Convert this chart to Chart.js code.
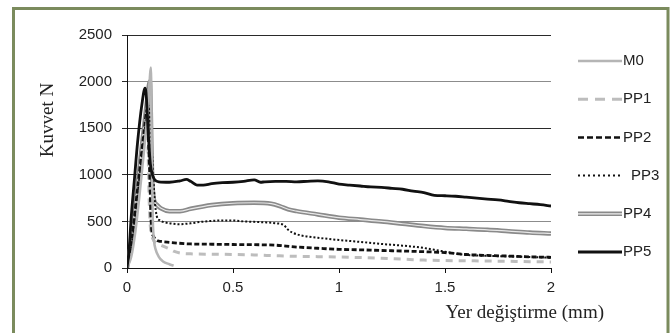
<!DOCTYPE html>
<html>
<head>
<meta charset="utf-8">
<script src="https://cdn.jsdelivr.net/npm/chart.js@4.4.1/dist/chart.umd.min.js"></script>
<style>
  body { margin: 0; background: #fff; }
  canvas { display: block; }
</style>
</head>
<body>
<canvas id="forceChart" width="672" height="333"></canvas>
<script>
// displacement (mm) / force (N)
const m0X = [0, 0.02, 0.04, 0.06, 0.08, 0.1, 0.113, 0.116, 0.119, 0.122, 0.127, 0.135, 0.15, 0.17, 0.2, 0.22];
const m0Y = [0, 120, 400, 800, 1250, 1750, 2150, 1500, 850, 500, 300, 200, 120, 70, 40, 25];

const pp1X = [0, 0.02, 0.04, 0.06, 0.08, 0.095, 0.1, 0.105, 0.11, 0.12, 0.14, 0.17, 0.2, 0.22, 0.25, 0.3, 0.4, 0.5, 0.6, 0.7, 0.8, 0.9, 1.0, 1.1, 1.2, 1.3, 1.4, 1.5, 1.6, 1.7, 1.8, 1.9, 2.0];
const pp1Y = [0, 200, 550, 950, 1350, 1550, 1200, 700, 450, 320, 270, 235, 205, 180, 160, 152, 148, 145, 140, 132, 125, 122, 118, 112, 105, 95, 85, 80, 78, 75, 72, 68, 65];

const pp2X = [0, 0.02, 0.04, 0.06, 0.08, 0.095, 0.1, 0.105, 0.108, 0.112, 0.116, 0.125, 0.14, 0.16, 0.2, 0.3, 0.4, 0.5, 0.6, 0.7, 0.75, 0.8, 0.9, 1.0, 1.1, 1.2, 1.3, 1.4, 1.5, 1.6, 1.7, 1.8, 1.9, 2.0];
const pp2Y = [0, 250, 650, 1050, 1450, 1700, 1450, 1150, 950, 600, 420, 340, 300, 285, 275, 258, 255, 252, 250, 245, 235, 225, 212, 200, 195, 188, 182, 175, 165, 145, 135, 128, 120, 115];

const pp3X = [0, 0.02, 0.04, 0.06, 0.08, 0.1, 0.11, 0.12, 0.13, 0.14, 0.155, 0.17, 0.2, 0.25, 0.3, 0.35, 0.4, 0.45, 0.5, 0.55, 0.6, 0.65, 0.7, 0.74, 0.76, 0.78, 0.82, 0.9, 1.0, 1.1, 1.2, 1.3, 1.4, 1.45, 1.5, 1.55, 1.6, 1.7, 1.8, 1.9, 2.0];
const pp3Y = [0, 230, 600, 1000, 1400, 1750, 1550, 1150, 750, 560, 510, 495, 480, 470, 480, 495, 505, 510, 510, 500, 495, 490, 480, 460, 410, 380, 350, 325, 300, 280, 258, 240, 215, 195, 175, 155, 140, 130, 125, 118, 110];

const pp4X = [0, 0.02, 0.04, 0.06, 0.08, 0.095, 0.108, 0.112, 0.116, 0.12, 0.125, 0.13, 0.14, 0.16, 0.2, 0.25, 0.3, 0.4, 0.5, 0.6, 0.68, 0.72, 0.76, 0.8, 0.9, 1.0, 1.1, 1.2, 1.3, 1.4, 1.5, 1.6, 1.7, 1.8, 1.9, 2.0];
const pp4Y = [0, 280, 680, 1100, 1500, 1800, 2000, 1700, 1200, 900, 760, 710, 680, 640, 610, 610, 635, 675, 695, 700, 690, 665, 630, 610, 575, 540, 520, 500, 475, 450, 430, 420, 410, 395, 380, 370];

const pp5X = [0, 0.01, 0.02, 0.035, 0.05, 0.07, 0.085, 0.09, 0.1, 0.11, 0.12, 0.13, 0.15, 0.2, 0.25, 0.28, 0.3, 0.33, 0.36, 0.4, 0.45, 0.5, 0.55, 0.6, 0.63, 0.65, 0.7, 0.75, 0.8, 0.85, 0.9, 0.95, 1.0, 1.05, 1.1, 1.15, 1.2, 1.25, 1.3, 1.35, 1.4, 1.45, 1.5, 1.55, 1.6, 1.65, 1.7, 1.75, 1.8, 1.85, 1.9, 1.95, 2.0];
const pp5Y = [0, 200, 550, 950, 1350, 1750, 1930, 1880, 1450, 1120, 1000, 950, 925, 920, 935, 950, 930, 890, 890, 905, 915, 920, 930, 945, 920, 925, 930, 930, 925, 930, 935, 925, 900, 890, 880, 870, 865, 855, 845, 825, 810, 780, 775, 770, 760, 750, 740, 730, 715, 700, 690, 680, 665];

const xTicks = [0, 0.5, 1, 1.5, 2];
const yTicks = [0, 500, 1000, 1500, 2000, 2500];
const seriesNames = ["M0", "PP1", "PP2", "PP3", "PP4", "PP5"];

function pts(xs, ys) {
  return xs.map((x, i) => ({ x: x, y: ys[i] }));
}

function line(label, xs, ys, color, width, dash) {
  return {
    label: label,
    data: pts(xs, ys),
    borderColor: color,
    borderWidth: width,
    borderDash: dash || [],
    pointRadius: 0,
    fill: false,
    cubicInterpolationMode: "monotone"
  };
}

// legend look for each series
const legendStyles = [
  { color: "#b5b5b5", width: 2.5, dash: [] },
  { color: "#bdbdbd", width: 3, dash: [10, 7] },
  { color: "#111", width: 2.5, dash: [6, 3] },
  { color: "#111", width: 2, dash: [2, 3] },
  { color: "#8a8a8a", width: 4.5, dash: [], inner: "#eee" },
  { color: "#111", width: 3, dash: [] }
];

const frameAndText = {
  id: "frameAndText",
  beforeDraw(chart) {
    const ctx = chart.ctx;
    ctx.save();
    ctx.fillStyle = "#fff";
    ctx.fillRect(0, 0, chart.width, chart.height);
    ctx.restore();
  },
  afterDraw(chart) {
    const ctx = chart.ctx;
    const area = chart.chartArea;
    ctx.save();
    // olive frame
    ctx.strokeStyle = "#7b8b5d";
    ctx.lineWidth = 3;
    ctx.strokeRect(13.5, 8.5, 654.5, 340);

    // axis titles
    ctx.fillStyle = "#222";
    ctx.font = "19px 'Liberation Serif', 'Times New Roman', serif";
    ctx.textAlign = "right";
    ctx.textBaseline = "alphabetic";
    ctx.fillText("Yer değiştirme (mm)", area.right + 53, 318);

    ctx.save();
    ctx.translate(48, 120);
    ctx.rotate(-Math.PI / 2);
    ctx.textAlign = "center";
    ctx.textBaseline = "middle";
    ctx.fillText("Kuvvet N", 0, 0);
    ctx.restore();

    // legend
    ctx.font = "15px 'Liberation Sans', Arial, sans-serif";
    ctx.textAlign = "left";
    ctx.textBaseline = "middle";
    seriesNames.forEach((name, i) => {
      const s = legendStyles[i];
      const y = 61 + i * 38.2;
      const x0 = area.right + 27;
      const x1 = name === "PP3" ? area.right + 69 : area.right + 71;
      ctx.beginPath();
      ctx.setLineDash(s.dash);
      ctx.strokeStyle = s.color;
      ctx.lineWidth = s.width;
      ctx.moveTo(x0, y);
      ctx.lineTo(x1, y);
      ctx.stroke();
      if (s.inner) {
        ctx.beginPath();
        ctx.strokeStyle = s.inner;
        ctx.lineWidth = 1.2;
        ctx.moveTo(x0, y);
        ctx.lineTo(x1, y);
        ctx.stroke();
      }
      ctx.setLineDash([]);
      ctx.fillStyle = "#222";
      ctx.fillText(name, name === "PP3" ? area.right + 80 : area.right + 72, y);
    });
    ctx.restore();
  }
};

new Chart(document.getElementById("forceChart"), {
  type: "line",
  data: {
    datasets: [
      line("PP4", pp4X, pp4Y, "#8a8a8a", 4.5),
      line("PP4 inner", pp4X, pp4Y, "#e8e8e8", 1.2),
      line("PP1", pp1X, pp1Y, "#bdbdbd", 3, [7, 6]),
      line("PP2", pp2X, pp2Y, "#111", 2.8, [5, 2.5]),
      line("PP3", pp3X, pp3Y, "#111", 2, [2, 2]),
      line("M0", m0X, m0Y, "#b5b5b5", 2.5),
      line("PP5", pp5X, pp5Y, "#111", 2.8)
    ].map((d, i, arr) => Object.assign(d, { order: arr.length - i }))
  },
  options: {
    responsive: false,
    devicePixelRatio: 1,
    animation: false,
    layout: { padding: { left: 0, top: 35, right: 121, bottom: 0 } },
    plugins: {
      legend: { display: false },
      tooltip: { enabled: false }
    },
    scales: {
      x: {
        type: "linear",
        min: 0,
        max: 2,
        afterBuildTicks: (axis) => { axis.ticks = xTicks.map(v => ({ value: v })); },
        afterFit: (axis) => { axis.height = 65; },
        grid: { drawOnChartArea: false, drawTicks: true, tickLength: 5, color: "#111" },
        border: { display: true, color: "#111", width: 1 },
        ticks: {
          padding: 6,
          color: "#222",
          font: { family: "'Liberation Sans', Arial, sans-serif", size: 15 },
          callback: (v) => String(v)
        }
      },
      y: {
        min: 0,
        max: 2500,
        afterBuildTicks: (axis) => { axis.ticks = yTicks.map(v => ({ value: v })); },
        afterFit: (axis) => { axis.width = 127; },
        grid: {
          tickLength: 5,
          lineWidth: 1,
          color: (c) => (c.tick && (c.tick.value === 2000 || c.tick.value === 500)) ? "#8c8c8c" : "#2a2a2a",
          tickColor: "#2a2a2a"
        },
        border: { display: true, color: "#111", width: 1 },
        ticks: {
          padding: 10,
          color: "#222",
          font: { family: "'Liberation Sans', Arial, sans-serif", size: 15 },
          callback: (v) => String(v)
        }
      }
    }
  },
  plugins: [frameAndText]
});
</script>
</body>
</html>
